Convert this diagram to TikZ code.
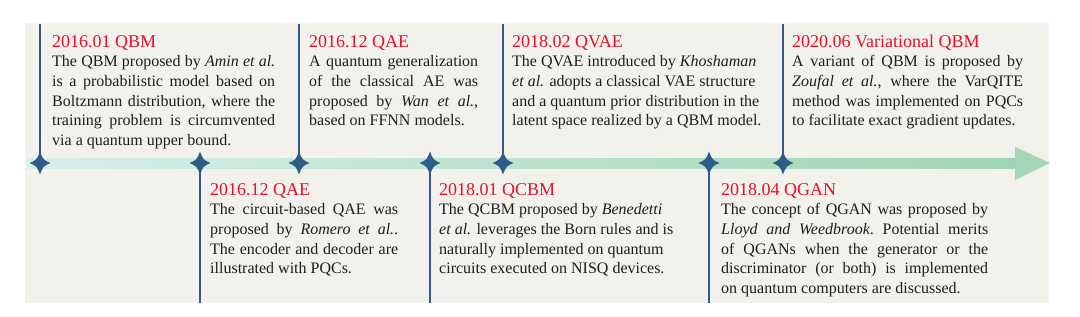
\documentclass[tikz,border=0pt]{standalone}
\usepackage{fontspec}
\setmainfont{Liberation Serif}
\definecolor{bgc}{HTML}{F2F1EB}
\definecolor{bandl}{HTML}{D8EFEA}
\definecolor{bandr}{HTML}{9FD4B2}
\definecolor{headc}{HTML}{A3D6B5}
\definecolor{linec}{HTML}{34598A}
\definecolor{starc}{HTML}{2D5C86}
\definecolor{titlec}{HTML}{E3122B}
\definecolor{txtc}{HTML}{1E1E1E}
\newcommand{\jline}[1]{\noindent\makebox[\linewidth][s]{#1}\par}
\newcommand{\nline}[1]{\noindent\mbox{#1}\par}
\newcommand{\evtitle}[1]{\noindent{\color{titlec}\fontsize{18bp}{19.7bp}\selectfont #1\par}}
\newcommand{\evbox}[2]{\parbox[t]{#1}{\fontsize{16bp}{19.7bp}\selectfont\setlength{\parindent}{0pt}\setlength{\parskip}{0pt}#2}}
\tikzset{
  vline/.style={draw=linec, line width=1.8bp},
  evtext/.style={anchor=base west, inner sep=0pt, text=txtc},
  starmark/.pic={\fill[starc] (0,-11.5) .. controls (3.2,-3.2) .. (10.5,0) .. controls (3.2,3.2) .. (0,11.5) .. controls (-3.2,3.2) .. (-10.5,0) .. controls (-3.2,-3.2) .. (0,-11.5) -- cycle;}
}
\begin{document}
\begin{tikzpicture}[x=1bp,y=-1bp]
\useasboundingbox (0,0) rectangle (1080,316);
% background
\fill[bgc] (25,23) rectangle (1049,303);
% timeline band and arrow head
\shade[left color=bandl, right color=bandr] (27,158) rectangle (1016,168);
\fill[headc] (1015,147) -- (1050,163) -- (1015,180) -- cycle;
% anchor coordinates
\coordinate (d1) at (40,163);  \coordinate (t1) at (40,24);
\coordinate (d2) at (200,163); \coordinate (b2) at (200,303);
\coordinate (d3) at (299,163); \coordinate (t3) at (299,24);
\coordinate (d4) at (430,163); \coordinate (b4) at (430,303);
\coordinate (d5) at (503,163); \coordinate (t5) at (503,24);
\coordinate (d6) at (709,163); \coordinate (b6) at (709,303);
\coordinate (d7) at (783,163); \coordinate (t7) at (783,24);
% vertical connectors
\draw[vline] (t1) -- (d1);
\draw[vline] (d2) -- (b2);
\draw[vline] (t3) -- (d3);
\draw[vline] (d4) -- (b4);
\draw[vline] (t5) -- (d5);
\draw[vline] (d6) -- (b6);
\draw[vline] (t7) -- (d7);
% star markers
\foreach \d in {d1,d2,d3,d4,d5,d6,d7} { \pic at (\d) {starmark}; }
% texts
\node[evtext] (e1) at (52,47) {\evbox{223bp}{%
\evtitle{2016.01 QBM}
\jline{The QBM proposed by \textit{Amin et al.}}
\jline{is a probabilistic model based on}
\jline{Boltzmann distribution, where the}
\jline{training problem is circumvented}
\nline{via a quantum upper bound.}}};
\node[evtext] (e2) at (309,47) {\evbox{169bp}{%
\evtitle{2016.12 QAE}
\jline{A quantum generalization}
\jline{of the classical AE was}
\jline{proposed by \textit{Wan et al.},}
\nline{based on FFNN models.}}};
\node[evtext] (e3) at (512,47) {\evbox{252bp}{%
\evtitle{2018.02 QVAE}
\nline{The QVAE introduced by \textit{Khoshaman}}
\nline{\textit{et al.} adopts a classical VAE structure}
\nline{and a quantum prior distribution in the}
\nline{latent space realized by a QBM model.}}};
\node[evtext] (e4) at (792,47) {\evbox{231bp}{%
\evtitle{2020.06 Variational QBM}
\jline{A variant of QBM is proposed by}
\jline{\textit{Zoufal et al.}, where the VarQITE}
\jline{method was implemented on PQCs}
\nline{to facilitate exact gradient updates.}}};
\node[evtext] (e5) at (210,195) {\evbox{188bp}{%
\evtitle{2016.12 QAE}
\jline{The circuit-based QAE was}
\jline{proposed by \textit{Romero et al.}.}
\jline{The encoder and decoder are}
\nline{illustrated with PQCs.}}};
\node[evtext] (e6) at (439,195) {\evbox{240bp}{%
\evtitle{2018.01 QCBM}
\nline{The QCBM proposed by \textit{Benedetti}}
\nline{\textit{et al.} leverages the Born rules and is}
\nline{naturally implemented on quantum}
\nline{circuits executed on NISQ devices.}}};
\node[evtext] (e7) at (721,195) {\evbox{267bp}{%
\evtitle{2018.04 QGAN}
\jline{The concept of QGAN was proposed by}
\jline{\textit{Lloyd and Weedbrook}.\ Potential merits}
\jline{of QGANs when the generator or the}
\jline{discriminator (or both) is implemented}
\nline{on quantum computers are discussed.}}};
\end{tikzpicture}
\end{document}
